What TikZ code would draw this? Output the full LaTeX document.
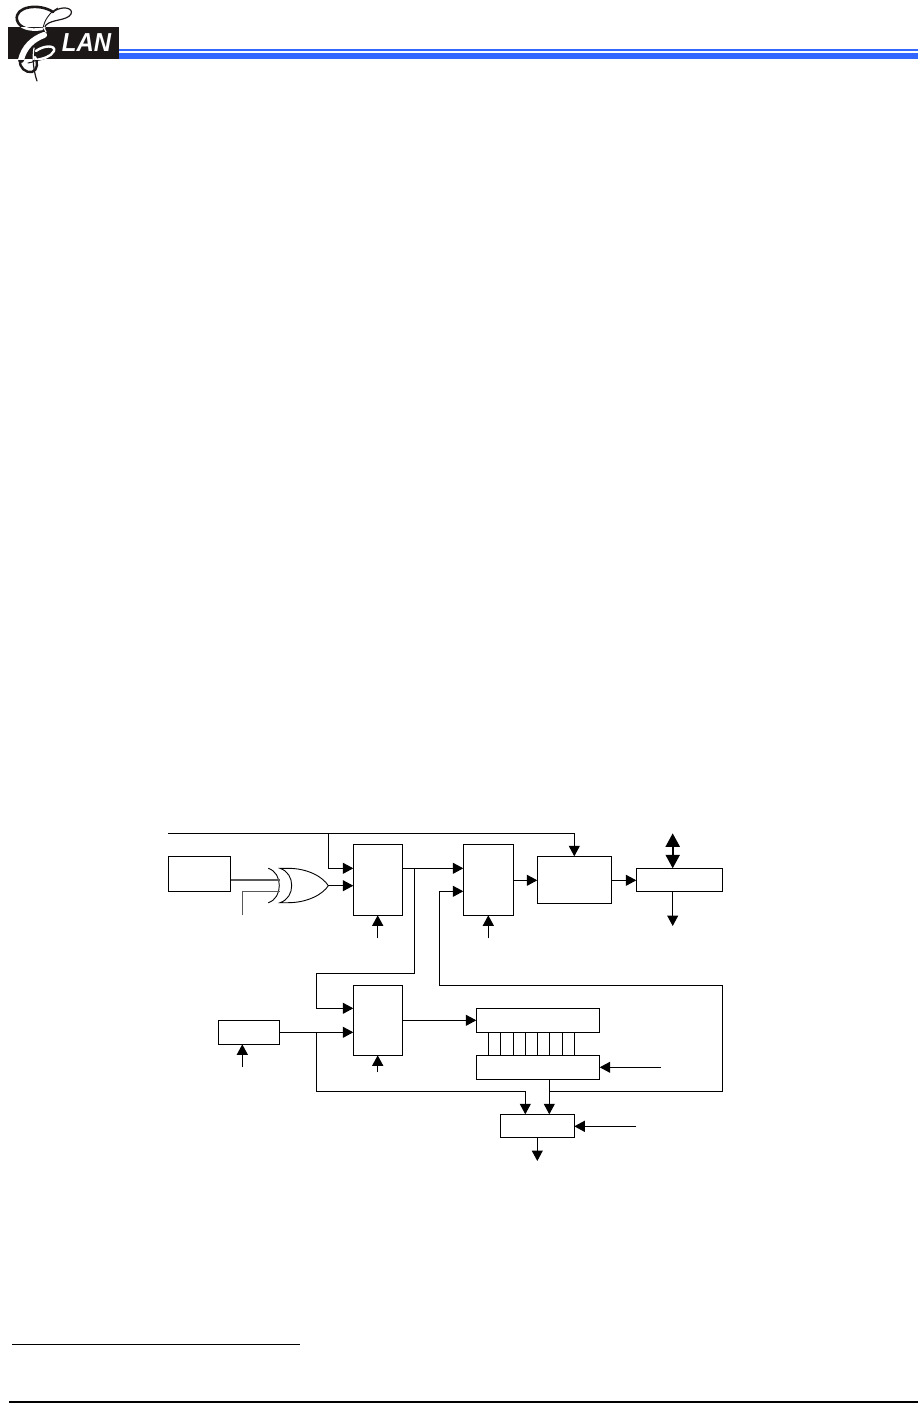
\documentclass[tikz,border=0pt]{standalone}
\usepackage{fontspec}
\setsansfont{Liberation Sans}
\usetikzlibrary{arrows.meta}
\definecolor{elanblue}{RGB}{51,102,255}
\definecolor{logoblack}{RGB}{28,24,24}
\tikzset{
  x=1pt,y=-1pt,
  wire/.style={line width=1.1pt,line join=miter},
  arr/.style={wire,-{Triangle[length=10.5pt,width=11pt]}},
  bx/.style={draw,line width=1.1pt,rectangle,inner sep=0pt,outer sep=0pt,anchor=north west},
  gate/.style={line width=.9pt},
  pin/.style={line width=1.3pt,black!65},
}
\newcommand{\bxnode}[5]{\node[bx,minimum width=#4 pt,minimum height=#5 pt] (#1) at (#2,#3) {};}
% script E strokes, drawn twice: dark on the paper, white inside the logo band
\newcommand{\logostrokes}[1]{%
  \draw[#1,line width=2.6pt,line cap=round] (53,12) .. controls (40,3) and (14,6) .. (17,20) .. controls (19,28) and (30,31) .. (42,29);
  \draw[#1,line width=1.2pt,line cap=round] (53,12) .. controls (62,5) and (74,8) .. (71,14) .. controls (67,21) and (52,19) .. (46,25) .. controls (44,28) and (44,30) .. (46,32);
  \draw[#1,line width=.9pt] (43,29) .. controls (44,20) and (50,12) .. (58,8);
  \draw[#1,line width=6pt,line cap=round] (44,35) .. controls (33,39) and (24,47) .. (21,60);
  \draw[#1,line width=2.4pt,line cap=round] (20,60) .. controls (19,68) and (26,73) .. (32,72) .. controls (38,70) and (38,62) .. (35,57);
  \draw[#1,line width=2.4pt,line cap=round] (36,51) .. controls (44,45) and (56,45) .. (54,51) .. controls (51,57) and (42,59) .. (36,60);
  \draw[#1,line width=1pt,line cap=round] (36,60) .. controls (33,62) and (30,63) .. (28,63);
  \draw[#1,line width=1.2pt,line cap=round] (34,48) .. controls (32,60) and (34,72) .. (37,81);
}
\begin{document}
\begin{tikzpicture}
\useasboundingbox (0,0) rectangle (918,1403);
% header
\fill[elanblue] (119,49) rectangle (918,51);
\fill[elanblue] (119,53) rectangle (918,59);
\fill[logoblack] (8.3,27) rectangle (118.7,59.3);
\logostrokes{logoblack}
\begin{scope}
  \clip (8.3,27) rectangle (118.7,59.3);
  \logostrokes{white}
\end{scope}
\node[inner sep=0pt,text=white,xscale=.92] (lan) at (86.5,42.7) {\sffamily\bfseries\itshape\fontsize{26}{26}\selectfont LAN};

% boxes, top row
\bxnode{ba}{168.3}{856.3}{62.4}{35}
\bxnode{mxa}{353.3}{844.3}{49}{71}
\bxnode{mxb}{463.3}{844.3}{50}{71}
\bxnode{bc}{537.3}{856.3}{74.4}{47}
\bxnode{bd}{636.3}{868.3}{86}{23}
% boxes, lower part
\bxnode{be}{218.3}{1020.3}{61.4}{24}
\bxnode{mxc}{353.3}{985.3}{49}{70}
\bxnode{rga}{476.3}{1008.3}{123.4}{24}
\bxnode{rgb}{476.3}{1055.3}{123.4}{24}
\bxnode{bf}{500.3}{1114.3}{74}{23}

% free ends and bends
\coordinate (topstart) at (168.3,833.3);
\coordinate (topbranch) at (328.3,833.3);
\coordinate (topend) at (574.3,833.3);
\coordinate (xin) at (242.3,915);
\coordinate (xout) at (328.3,885.7);
\coordinate (mxain) at (353.3,868.3);
\coordinate (mxasrc) at (377.7,938.3);
\coordinate (mxbsrc) at (488.3,938.3);
\coordinate (split) at (414.3,868.3);
\coordinate (lowpt) at (316.3,973.3);
\coordinate (fb) at (439.3,985.3);
\coordinate (bus) at (722.3,1091.3);
\coordinate (busj) at (549.3,1091.3);
\coordinate (busb) at (525.3,1091.3);
\coordinate (ej) at (316.3,1032.3);
\coordinate (esrc) at (242.3,1067.3);
\coordinate (msrc) at (377.7,1072.3);
\coordinate (dtop) at (672.7,833.3);
\coordinate (dbot) at (672.7,926);
\coordinate (rsrc) at (661,1067.3);
\coordinate (fsrc) at (636.3,1126.3);
\coordinate (fout) at (537.3,1161);

% top bus
\draw[arr] (topstart) -- (topend) -- (topend |- bc.north);
\draw[arr] (topbranch) |- (mxain);
% xor gate
\draw[gate] (268.3,868.3) .. controls (276,871) and (279.3,878) .. (279.3,885.5) .. controls (279.3,893) and (276,900) .. (268.3,902.7);
\draw[gate] (280,868.3) .. controls (288,871) and (291.7,878) .. (291.7,885.5) .. controls (291.7,893) and (288,900) .. (280,902.7)
  -- (288,902.7) .. controls (308,902.7) and (323,894) .. (xout) .. controls (323,877) and (308,868.3) .. (288,868.3) -- cycle;
\draw[pin] (ba.east |- 0,880) -- (279.5,880);
\draw[pin] (xin) |- (279.5,891.3);
\draw[arr] (xout) -- (xout -| mxa.west);
% first mux
\draw[arr] (mxasrc) -- (mxasrc |- mxa.south);
\draw[arr] (mxa.east |- mxain) -- (mxb.west |- mxain);
\draw[arr] (split) |- (lowpt) |- (mxc.west |- 0,1008.3);
% second mux
\draw[arr] (mxbsrc) -- (mxbsrc |- mxb.south);
\draw[arr] (mxb.east |- 0,880.3) -- (bc.west |- 0,880.3);
\draw[arr] (bc.east |- 0,880.3) -- (bd.west |- 0,880.3);
\draw[line width=2.2pt,{Triangle[length=13.5pt,width=14pt]}-{Triangle[length=13.5pt,width=14pt]}] (dtop) -- (dtop |- bd.north);
\draw[arr] (dtop |- bd.south) -- (dbot);
% feedback loop
\draw[arr] (busj) -- (bus) |- (fb) -- (fb |- 0,891.3) -- (mxb.west |- 0,891.3);
% lower part
\draw[arr] (esrc) -- (esrc |- be.south);
\draw[arr] (be.east |- ej) -- (mxc.west |- ej);
\draw[arr] (ej) |- (busb) -- (busb |- bf.north);
\draw[arr] (msrc) -- (msrc |- mxc.south);
\draw[arr] (mxc.east |- 0,1020.3) -- (rga.west |- 0,1020.3);
\foreach \vx in {488.3,500.3,513.3,525.3,537.3,549.3,562.3,574.3}
  \draw[line width=.9pt] (\vx,1032.3) -- (\vx,1055.3);
\draw[arr] (rsrc) -- (rsrc -| rgb.east);
\draw[arr] (busj |- rgb.south) -- (busj |- bf.north);
\draw[arr] (fsrc) -- (fsrc -| bf.east);
\draw[arr] (fout |- bf.south) -- (fout);
% footer
\draw[line width=1.1pt] (12,1344.4) -- (300,1344.4);
\fill[black] (9,1400.7) rectangle (918,1403);
\end{tikzpicture}
\end{document}
